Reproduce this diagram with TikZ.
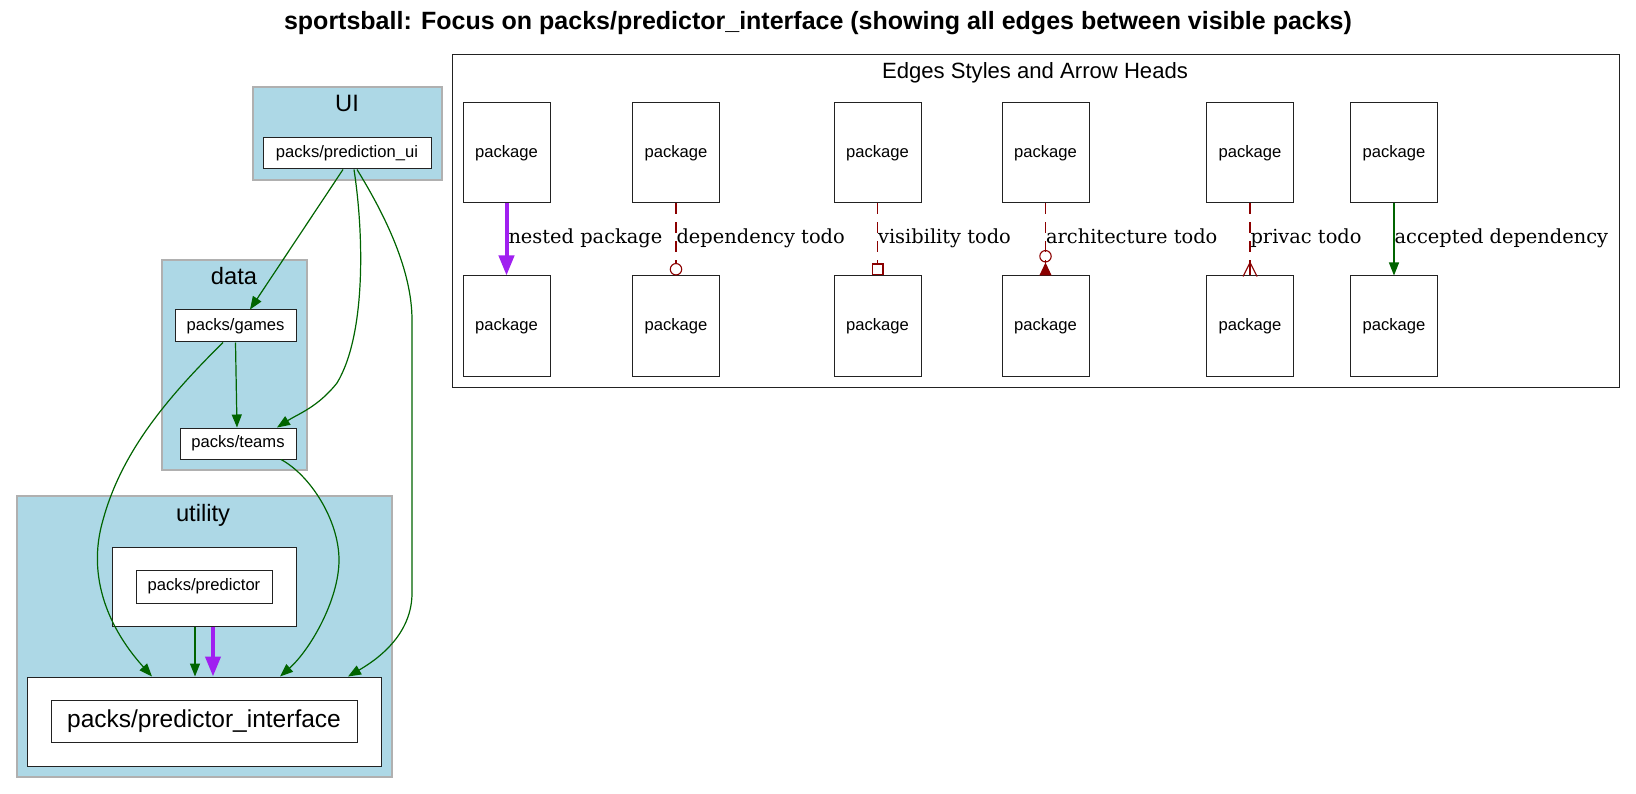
\documentclass[tikz,border=0pt]{standalone}
\usepackage{fontspec}
\setmainfont{Liberation Sans}
\newfontfamily\lblfont{DejaVu Serif}
\usetikzlibrary{arrows.meta}
\definecolor{lb}{HTML}{ADD8E6}
\definecolor{clb}{HTML}{B0B0B0}
\definecolor{dg}{HTML}{006400}
\definecolor{pur}{HTML}{A020F0}
\definecolor{dr}{HTML}{8B0000}
\definecolor{bd}{HTML}{222222}
\begin{document}
\begin{tikzpicture}[x=1pt,y=-1pt,
  box/.style={draw=bd, line width=1pt, fill=white, inner sep=0pt},
  pkgnode/.style={box, font=\fontsize{16.6}{18}\selectfont},
  pk/.style={pkgnode, minimum width=87pt, minimum height=100pt},
  cluster/.style={draw=clb, fill=lb, line width=1.2pt, inner sep=0pt},
  clabel/.style={font=\fontsize{23.7}{26}\selectfont, anchor=base, inner sep=0pt},
  dep/.style={color=dg, line width=1.2pt, -{Triangle[length=13pt,width=10pt]}},
  nest/.style={color=pur, line width=4pt, -{Triangle[length=20pt,width=15pt]}},
  todo/.style={color=dr, line width=1.1pt, dash pattern=on 11pt off 8pt},
  elabel/.style={font=\lblfont\fontsize{19.4}{21}\selectfont, anchor=base west, inner sep=0pt, text=black, yshift=-3.8pt},
]
\useasboundingbox (0,0) rectangle (1636,794);

% title
\node[font=\bfseries\fontsize{25}{28}\selectfont, inner sep=0pt] (title) at (818,23) {sportsball: Focus on packs/predictor\_interface (showing all edges between visible packs)};

% clusters
\node[cluster, minimum width=189pt, minimum height=93pt] (cui) at (347.5,133.5) {};
\node[clabel] (cuil) at (347,111.7) {UI};
\node[cluster, minimum width=145pt, minimum height=210pt] (cdata) at (234.5,365) {};
\node[clabel] (cdatal) at (234,284.3) {data};
\node[cluster, minimum width=375pt, minimum height=281pt] (cutil) at (204.5,636.5) {};
\node[clabel] (cutill) at (203,521.7) {utility};

% nodes
\node[pkgnode, minimum width=168pt, minimum height=31pt] (pui) at (347,153.5) {packs/prediction\_ui};
\node[pkgnode, minimum width=121pt, minimum height=32pt] (games) at (235.5,326) {packs/games};
\node[pkgnode, minimum width=116pt, minimum height=31pt] (teams) at (238,443.5) {packs/teams};
\node[box, minimum width=184pt, minimum height=79pt] (predbox) at (204,586.5) {};
\node[pkgnode, minimum width=136pt, minimum height=33pt] (pred) at (204,586.5) {packs/predictor};
\node[box, minimum width=354pt, minimum height=89pt] (pintbox) at (204,721.5) {};
\node[box, font=\fontsize{24.5}{27}\selectfont, minimum width=306pt, minimum height=42pt] (pint) at (204,721) {packs/predictor\_interface};

% edges
\draw[dep] ([xshift=-4pt]pui.south) -- ([xshift=14.5pt]games.north);
\draw[dep] ([xshift=7pt]pui.south) .. controls (364,235) and (366,335) .. (337,383) .. controls (318,407) and (298,414) .. ([xshift=39pt]teams.north);
\draw[dep] ([xshift=10pt]pui.south) .. controls (385,215) and (412,270) .. (412,320) -- (412,593) .. controls (412,630) and (385,655) .. ([xshift=144pt]pintbox.north);
\draw[dep] ([xshift=-12.5pt]games.south) .. controls (170,395) and (122,450) .. (103,520) .. controls (86,578) and (110,630) .. ([xshift=-52pt]pintbox.north);
\draw[dep] (games.south) -- ([xshift=-1pt]teams.north);
\draw[dep] ([xshift=43pt]teams.south) .. controls (310,475) and (339,520) .. (339,560) .. controls (339,600) and (310,650) .. ([xshift=76pt]pintbox.north);
\draw[dep] ([xshift=-9pt]predbox.south) -- ([xshift=-9pt]pintbox.north);
\draw[nest] ([xshift=9pt]predbox.south) -- ([xshift=9pt]pintbox.north);

% legend
\node[draw=bd, fill=white, line width=1pt, minimum width=1167pt, minimum height=332pt, inner sep=0pt] (legend) at (1035.5,221) {};
\node[font=\fontsize{22.1}{24}\selectfont, anchor=base, inner sep=0pt] (legendt) at (1035,78.3) {Edges Styles and Arrow Heads};

\node[pk] (a1) at (506.5,153) {package};
\node[pk] (a2) at (506.5,326) {package};
\node[pk] (b1) at (676,153) {package};
\node[pk] (b2) at (676,326) {package};
\node[pk] (c1) at (877.5,153) {package};
\node[pk] (c2) at (877.5,326) {package};
\node[pk] (d1) at (1045.5,153) {package};
\node[pk] (d2) at (1045.5,326) {package};
\node[pk] (e1) at (1250,153) {package};
\node[pk] (e2) at (1250,326) {package};
\node[pk] (f1) at (1394,153) {package};
\node[pk] (f2) at (1394,326) {package};

\draw[nest] (a1) -- (a2) node[elabel, midway] {nested package};
\draw[todo, -{Circle[open,length=12.5pt,width=12.5pt]}] (b1) -- (b2) node[elabel, midway] {dependency todo};
\draw[todo, -{Square[open,length=12pt,width=12pt]}] (c1) -- (c2) node[elabel, midway] {visibility todo};
\draw[todo, -{Circle[open,length=12.5pt,width=12.5pt] Triangle[reversed,length=13pt,width=12pt]}] (d1) -- (d2) node[elabel, midway] {architecture todo};
\draw[todo] (e1) -- (e2) node[elabel, midway] {privac todo};
\draw[color=dr, line width=1.1pt] ([xshift=-7pt,yshift=-1pt]e2.north) -- ([yshift=13pt]e2.north) -- ([xshift=7pt,yshift=-1pt]e2.north);
\draw[color=dr, line width=1.1pt] ([yshift=13pt]e2.north) -- (e2.north);
\draw[dep] (f1) -- (f2) node[elabel, midway] {accepted dependency};
\end{tikzpicture}
\end{document}
